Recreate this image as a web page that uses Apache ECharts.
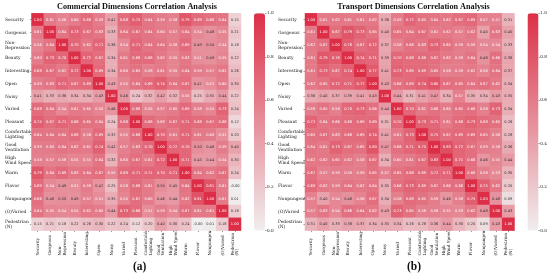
<!DOCTYPE html>
<html><head><meta charset="utf-8">
<style>html,body{margin:0;padding:0;background:#fff}#c{width:550px;height:276px}</style>
<script src="https://cdn.jsdelivr.net/npm/echarts@6/dist/echarts.min.js"></script>
</head><body><div id="c"></div>
<script>
const labels = ['Security','Gorgeous','Non-\nRepression','Beauty','Interesting','Open','Noisy','Varied','Pleasant','Comfortable\nLighting','Good\nVentilation','High\nWind Speed','Warm','Flavor','Nonpungent','(O)Varied','Pedestrian\n(N)'];
const colorbarTicks = [0,0.2,0.4,0.6,0.8,1];
const commercialRows = [
[1,.61,.56,.60,.68,.59,.41,.68,.75,.64,.59,.58,.79,.69,.66,.64,.15],
[.61,1,.64,.73,.67,.63,.33,.64,.67,.64,.60,.57,.64,.54,.48,.55,.21],
[.56,.64,1,.70,.62,.71,.36,.54,.71,.64,.64,.58,.69,.49,.50,.54,.18],
[.60,.73,.70,1,.72,.67,.34,.61,.68,.68,.62,.55,.63,.51,.49,.55,.22],
[.68,.67,.62,.72,1,.69,.34,.60,.65,.58,.61,.55,.64,.59,.57,.62,.26],
[.59,.63,.71,.67,.69,1,.43,.55,.64,.69,.74,.64,.67,.47,.51,.60,.30],
[.41,.33,.36,.34,.34,.43,1,.46,.24,.32,.42,.32,.55,.25,.35,.44,.22],
[.68,.64,.54,.61,.60,.55,.46,1,.68,.55,.57,.60,.69,.58,.55,.73,.24],
[.75,.67,.71,.68,.65,.64,.24,.68,1,.68,.63,.67,.71,.68,.67,.68,.12],
[.64,.64,.64,.68,.58,.69,.32,.55,.68,1,.70,.61,.71,.61,.60,.51,.20],
[.59,.60,.64,.62,.61,.74,.42,.57,.63,.70,1,.72,.70,.50,.46,.59,.40],
[.58,.57,.58,.55,.55,.64,.32,.60,.67,.61,.72,1,.71,.45,.44,.54,.30],
[.79,.64,.69,.63,.64,.67,.55,.69,.71,.71,.70,.71,1,.64,.62,.67,.24],
[.69,.54,.49,.51,.59,.47,.25,.58,.68,.61,.50,.45,.64,1,.81,.61,-.004],
[.66,.48,.50,.49,.57,.51,.35,.55,.67,.60,.46,.44,.62,.81,1,.61,.01],
[.64,.55,.54,.55,.62,.60,.44,.73,.68,.51,.59,.54,.67,.61,.61,1,.18],
[.15,.21,.18,.22,.26,.30,.22,.24,.12,.20,.40,.30,.24,-.004,.01,.18,1]];
const transportRows = [
[1,.61,.62,.61,.61,.62,.36,.59,.72,.65,.64,.62,.67,.69,.57,.57,.31],
[.61,1,.67,.79,.73,.65,.40,.65,.64,.67,.61,.62,.57,.62,.40,.63,.40],
[.62,.67,1,.76,.67,.72,.37,.58,.66,.63,.73,.65,.59,.59,.54,.54,.33],
[.61,.79,.76,1,.74,.71,.39,.70,.68,.68,.67,.62,.59,.64,.48,.66,.38],
[.61,.73,.67,.74,1,.77,.41,.73,.69,.69,.65,.58,.59,.62,.56,.64,.37],
[.62,.65,.72,.71,.77,1,.43,.66,.69,.74,.80,.67,.65,.64,.67,.62,.34],
[.36,.40,.37,.39,.41,.43,1,.44,.31,.41,.47,.34,.57,.35,.34,.43,.35],
[.59,.65,.58,.70,.73,.66,.44,1,.70,.61,.66,.60,.65,.66,.58,.73,.34],
[.72,.64,.66,.68,.69,.69,.31,.70,1,.73,.71,.61,.68,.73,.68,.65,.26],
[.65,.67,.63,.68,.69,.74,.41,.61,.73,1,.75,.67,.69,.69,.65,.58,.28],
[.64,.61,.73,.67,.65,.80,.47,.66,.71,.75,1,.83,.72,.67,.59,.58,.36],
[.62,.62,.65,.62,.58,.67,.34,.60,.61,.67,.83,1,.71,.66,.46,.55,.44],
[.67,.57,.59,.59,.59,.65,.57,.65,.68,.69,.72,.71,1,.66,.58,.53,.30],
[.69,.62,.59,.64,.62,.64,.35,.66,.73,.69,.67,.66,.66,1,.75,.62,.20],
[.57,.40,.54,.48,.56,.67,.34,.58,.68,.65,.59,.46,.58,.75,1,.48,.09],
[.57,.63,.54,.66,.64,.62,.43,.73,.65,.58,.58,.55,.53,.62,.48,1,.43],
[.31,.40,.33,.38,.37,.34,.35,.34,.26,.28,.36,.44,.30,.20,.09,.43,1]];

const SERIF = '"DejaVu Serif"';
const ramp = ['#f0eeee','#dc2f47'];
const toCells = rows => rows.flatMap((r,y)=>r.map((v,x)=>({
  value:[x,y,v],
  label:{color:v>0.505?'#fff':'#333'}
})));
const panels = [
 {title:'Commercial Dimensions Correlation Analysis',tc:137,rows:commercialRows,left:31.5,barLeft:254,cap:'(a)',capX:133,lm:26.5},
 {title:'Transport Dimensions Correlation Analysis',tc:413.5,rows:transportRows,left:305,barLeft:527.5,cap:'(b)',capX:407,lm:27}
];
const TOP=13.3, W=209.5, H=217.3;
const option = {animation:false,backgroundColor:'#fff',title:[],grid:[],xAxis:[],yAxis:[],visualMap:[],series:[]};
panels.forEach((p,i)=>{
  option.title.push({text:p.title,left:p.tc,top:2.5,textAlign:'center',padding:0,
    textStyle:{fontFamily:'"Liberation Serif"',fontWeight:'bold',fontSize:8.2,color:'#111'}});
  option.title.push({text:p.cap,left:p.capX,top:261,padding:0,
    textStyle:{fontFamily:'"Liberation Serif"',fontWeight:'bold',fontSize:11.5,color:'#111'}});
  const g=i*2;
  option.grid.push({left:p.left,top:TOP,width:W,height:H});
  option.grid.push({left:p.barLeft,top:TOP,width:11,height:H});
  const axisBase={type:'category',data:labels,axisLine:{show:false},splitLine:{show:false},splitArea:{show:false}};
  const tick={show:true,length:1.5,lineStyle:{color:'#333',width:.5},interval:0,alignWithLabel:true};
  option.xAxis.push(Object.assign({},axisBase,{gridIndex:g,position:'bottom',axisTick:tick,boundaryGap:true,
    axisLabel:{interval:0,rotate:90,align:'left',verticalAlign:'middle',margin:25,fontFamily:SERIF,fontSize:4.2,lineHeight:4.8,color:'#222'}}));
  option.yAxis.push(Object.assign({},axisBase,{gridIndex:g,inverse:true,position:'left',axisTick:tick,
    axisLabel:{interval:0,align:'left',margin:p.lm,fontFamily:SERIF,fontSize:4.4,lineHeight:5,color:'#222'}}));
  option.xAxis.push({type:'category',gridIndex:g+1,show:false,data:['']});
  option.yAxis.push({type:'value',gridIndex:g+1,position:'right',min:colorbarTicks[0],max:colorbarTicks[5],interval:0.2,
    axisLine:{show:false},splitLine:{show:false},axisTick:{show:true,length:1.5,lineStyle:{color:'#333',width:.5}},
    axisLabel:{margin:2,fontFamily:SERIF,fontSize:4.2,color:'#222',formatter:v=>v.toFixed(1)}});
  option.visualMap.push({type:'continuous',seriesIndex:i,min:0,max:1,left:p.barLeft,top:TOP,itemWidth:11,itemHeight:H,
    padding:0,text:['',''],calculable:false,inRange:{color:ramp},outOfRange:{color:ramp[0]}});
  option.series.push({type:'heatmap',xAxisIndex:g,yAxisIndex:g,data:toCells(p.rows),
    label:{show:true,fontFamily:'"DejaVu Sans"',fontSize:3.6,formatter:o=>o.value[2].toFixed(2)},
    itemStyle:{borderWidth:0},emphasis:{disabled:true}});
});
echarts.init(document.getElementById('c'),null,{renderer:'canvas'}).setOption(option);
</script></body></html>
